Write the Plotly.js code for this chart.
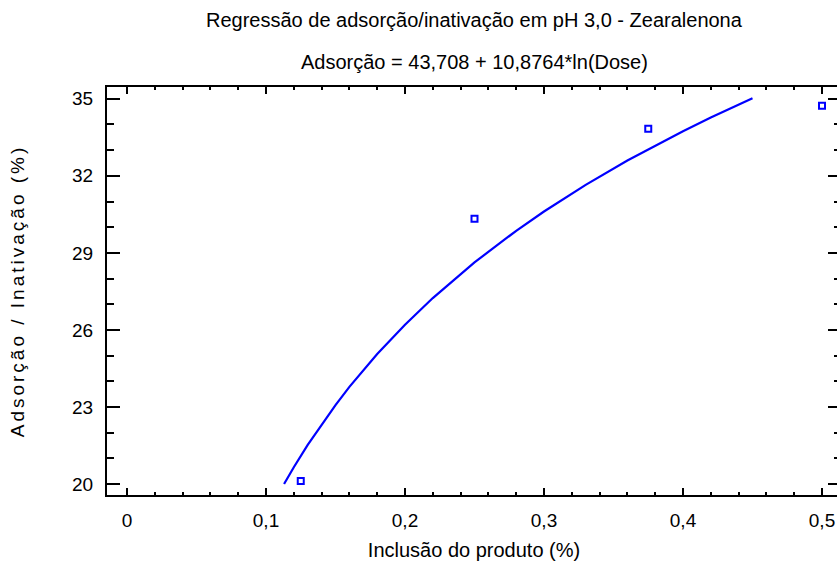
<!DOCTYPE html>
<html>
<head>
<meta charset="utf-8">
<script src="https://cdn.plot.ly/plotly-3.0.1.min.js"></script>
<style>
html,body{margin:0;padding:0;overflow:hidden;background:#fff;width:837px;height:569px;}
#chart{width:842px;height:569px;}
</style>
</head>
<body>
<div id="chart"></div>
<script>
// Observed points
const doseObs = [0.125, 0.25, 0.375, 0.5];
const adsObs = [20.12, 30.33, 33.83, 34.73];
// Fitted curve
const doseFit = [0.113, 0.12, 0.13, 0.14, 0.15, 0.16, 0.18, 0.20, 0.22, 0.25, 0.28, 0.30, 0.33, 0.36, 0.40, 0.42, 0.45];
const adsFit = [20.0, 20.65, 21.52, 22.32, 23.07, 23.78, 25.06, 26.20, 27.24, 28.63, 29.86, 30.61, 31.65, 32.60, 33.74, 34.27, 35.02];
const xTickVals = [0, 0.1, 0.2, 0.3, 0.4, 0.5];
const yTickVals = [20, 23, 26, 29, 32, 35];

const titleLine1 = 'Regressão de adsorção/inativação em pH 3,0 - Zearalenona';
const titleLine2 = 'Adsorção = 43,708 + 10,8764*ln(Dose)';

const FONT = 'Liberation Sans, Arial, sans-serif';

const traces = [
  {x: doseFit, y: adsFit, mode: 'lines', line: {color: '#0000ff', width: 2.2}, hoverinfo: 'skip'},
  {x: doseObs, y: adsObs, mode: 'markers', marker: {symbol: 'square-open', size: 6, color: '#0000ff', line: {width: 2, color: '#0000ff'}}}
];

const axisCommon = {
  showline: true, linecolor: '#000', linewidth: 2, mirror: 'ticks',
  ticks: 'inside', tickcolor: '#000', tickwidth: 2,
  showgrid: false, zeroline: false,
  tickfont: {family: FONT, size: 19, color: '#000'}
};

const layout = {
  width: 842, height: 569,
  margin: {l: 107, r: 1, t: 87, b: 74},
  paper_bgcolor: '#fff', plot_bgcolor: '#fff',
  showlegend: false,
  separators: ',.',
  font: {family: FONT, color: '#000'},
  annotations: [
    {text: titleLine1, xref: 'paper', yref: 'paper', x: 0.5, y: 1.164, xanchor: 'center', yanchor: 'middle', showarrow: false, font: {family: FONT, size: 20, color: '#000'}},
    {text: titleLine2, xref: 'paper', yref: 'paper', x: 0.5, y: 1.061, xanchor: 'center', yanchor: 'middle', showarrow: false, font: {family: FONT, size: 20, color: '#000'}}
  ],
  xaxis: Object.assign({}, axisCommon, {
    range: [-0.01439, 0.51367], tickvals: xTickVals, ticklen: 7,
    minor: {dtick: 0.02, tick0: 0, ticks: 'inside', ticklen: 3, tickwidth: 2, tickcolor: '#000'},
    ticklabelstandoff: 7,
    title: {text: 'Inclusão do produto (%)', font: {family: FONT, size: 20, color: '#000'}, standoff: 13}
  }),
  yaxis: Object.assign({}, axisCommon, {
    range: [19.57, 35.46], tickvals: yTickVals, ticklen: 13,
    minor: {dtick: 1, tick0: 20, ticks: 'inside', ticklen: 7, tickwidth: 2, tickcolor: '#000'},
    ticklabelstandoff: 8,
    title: {text: 'Adsorção / Inativação (%)', font: {family: FONT, size: 19, color: '#000'}, standoff: 42}
  })
};

Plotly.newPlot('chart', traces, layout, {displayModeBar: false, staticPlot: true}).then(function(){
  const yt = document.querySelector('.ytitle');
  if (yt) yt.style.letterSpacing = '3px';
});
</script>
</body>
</html>
